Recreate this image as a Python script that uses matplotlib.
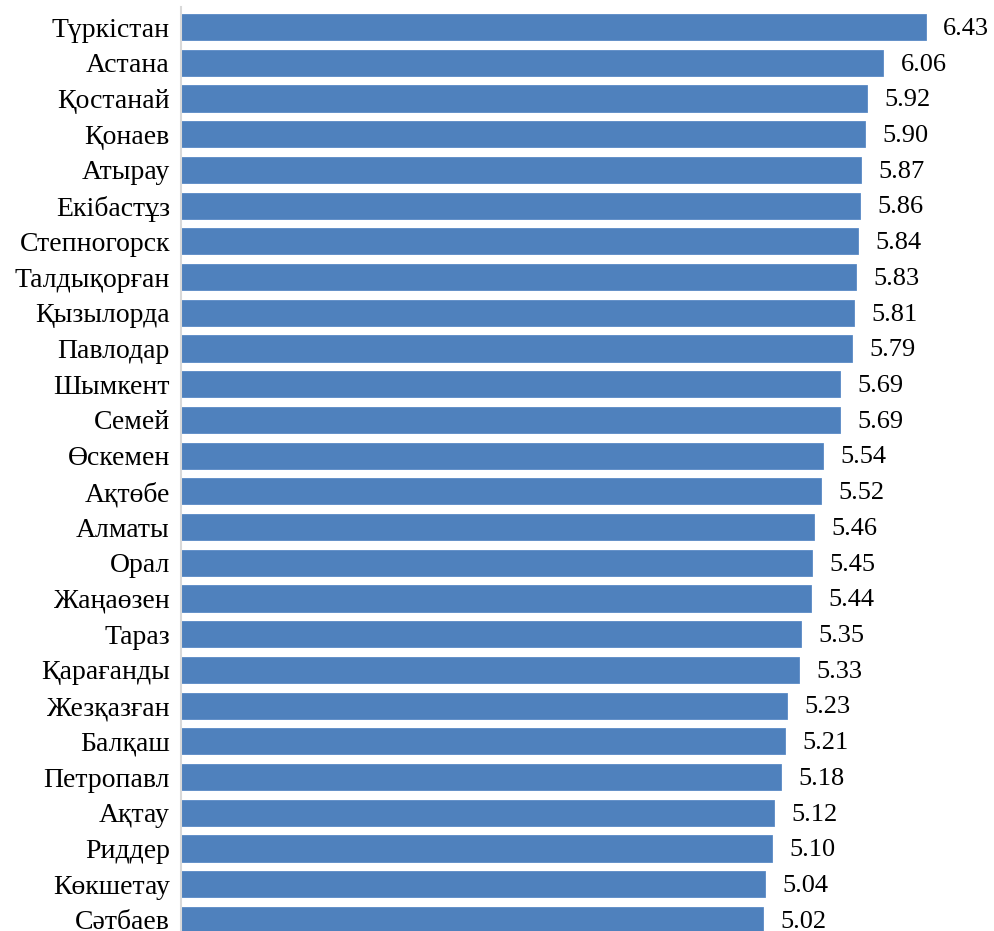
import matplotlib
matplotlib.use("Agg")
import matplotlib.pyplot as plt

cities = ["Түркістан", "Астана", "Қостанай", "Қонаев", "Атырау", "Екібастұз",
          "Степногорск", "Талдықорған", "Қызылорда", "Павлодар", "Шымкент", "Семей",
          "Өскемен", "Ақтөбе", "Алматы", "Орал", "Жаңаөзен", "Тараз", "Қарағанды",
          "Жезқазған", "Балқаш", "Петропавл", "Ақтау", "Риддер", "Көкшетау", "Сәтбаев"]
values = [6.43, 6.06, 5.92, 5.90, 5.87, 5.86, 5.84, 5.83, 5.81, 5.79, 5.69, 5.69,
          5.54, 5.52, 5.46, 5.45, 5.44, 5.35, 5.33, 5.23, 5.21, 5.18, 5.12, 5.10,
          5.04, 5.02]

plt.rcParams["font.family"] = ["Liberation Serif", "DejaVu Serif"]

W, H = 995, 931
fig = plt.figure(figsize=(W / 100, H / 100), dpi=100)
# axes placed in pixel terms: left at 181 px, top at ~7 px, runs to bottom edge
left, right, top, bottom = 181, 992, 7.4, 931
ax = fig.add_axes([left / W, 1 - bottom / H, (right - left) / W, (bottom - top) / H])

pos = list(range(len(cities)))
ax.barh(pos, values, height=0.73, color="#4f81bd", edgecolor="#5a8ac6", linewidth=0.6)

for p, v in zip(pos, values):
    ax.text(v + 0.15, p + 0.05, f"{v:.2f}", va="center", ha="left", fontsize=19)

ax.set_xlim(0, 7.0)
ax.set_ylim(25.31, -0.55)
ax.set_yticks(pos)
ax.set_yticklabels(cities, fontsize=20)
ax.tick_params(axis="y", length=0, pad=8)
ax.set_xticks([])
for s in ["top", "right", "bottom"]:
    ax.spines[s].set_visible(False)
ax.spines["left"].set_color("#d9d9d9")
ax.spines["left"].set_linewidth(1.5)

fig.savefig("out.png", dpi=100)
